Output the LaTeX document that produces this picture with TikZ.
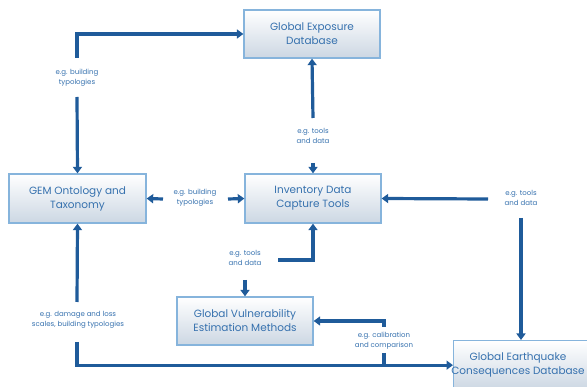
\documentclass[tikz,border=0pt]{standalone}
\usepackage{fontspec}
\setmainfont{Poppins}
\usetikzlibrary{arrows.meta}
\definecolor{arr}{HTML}{1F5B9A}
\definecolor{txt}{HTML}{3671AE}
\definecolor{bord}{HTML}{86B4DC}
\definecolor{shade}{HTML}{CCD7E3}
\tikzset{
  box/.style={draw=bord, line width=1.3pt, top color=white, bottom color=shade,
    minimum width=136pt, minimum height=48pt, inner sep=0pt, align=center,
    text=txt, font=\fontsize{10.5}{14}\selectfont},
  lab/.style={text=txt, align=center, inner sep=0pt, font=\fontsize{7}{10}\selectfont},
  conn/.style={draw=arr, line width=3.2pt, -{Triangle[length=6.5pt,width=9pt]}},
  plain/.style={draw=arr, line width=3.2pt},
}
\begin{document}
\begin{tikzpicture}[x=1pt,y=-1pt]
\useasboundingbox (0,0) rectangle (587,387);
\clip (0,0) rectangle (587,387);
% boxes
\node[box] (exp) at (312,34) {Global Exposure\\Database};
\node[box, minimum width=137pt, minimum height=49pt] (gem) at (77.5,198.5) {GEM Ontology and\\Taxonomy};
\node[box, minimum height=49pt] (inv) at (313,198.5) {Inventory Data\\Capture Tools};
\node[box] (vul) at (245,321) {Global Vulnerability\\Estimation Methods};
\node[box, anchor=north west, minimum width=150pt, minimum height=49pt] (con) at (453,340) {};
\node[lab, text=txt, font=\fontsize{10.5}{14}\selectfont] (contxt) at (518,365) {Global Earthquake\\Consequences Database};
% labels
\node[lab] (lab1) at (77,78) {e.g. building\\typologies};
\node[lab] (lab2) at (195,198) {e.g. building\\typologies};
\node[lab] (lab3) at (313,136) {e.g. tools\\and data};
\node[lab] (lab4) at (521,198) {e.g. tools\\and data};
\node[lab] (lab5) at (245,258) {e.g. tools\\and data};
\node[lab] (lab6) at (78,320) {e.g. damage and loss\\scales, building typologies};
\node[lab] (lab7) at (384,341) {e.g. calibration\\and comparison};
% free ends
\coordinate (c1a) at (77,58);
\coordinate (c1b) at (77,97);
\coordinate (c2a) at (163,199);
\coordinate (c2b) at (228,199);
\coordinate (c3a) at (313,118);
\coordinate (c3b) at (313,163);
\coordinate (c4a) at (488,199);
\coordinate (c4b) at (521,218);
\coordinate (c5a) at (278,260);
\coordinate (c5b) at (245,280);
\coordinate (c6a) at (77,302);
\coordinate (c6b) at (77,342);
\coordinate (c7a) at (384,353);
\coordinate (c7b) at (384,327);
% connectors
\draw[conn] (c1a) |- (exp.west);
\draw[conn] (c1b) -- (gem.north);
\draw[conn] (c2a) -- (gem.east);
\draw[conn] (c2b) -- (inv.west);
\draw[conn] (c3a) -- (exp.south);
\draw[conn] (c3b) -- (inv.north);
\draw[conn] (c4a) -- (inv.east);
\draw[conn] (c4b) -- (c4b |- con.north);
\draw[conn] (c5a) -| (inv.south);
\draw[conn] (c5b) -- (vul.north);
\draw[conn] (c6a) -- (gem.south);
\draw[conn] (c6b) |- (con.west);
\draw[plain] (c7a) -- (c7a |- con.west);
\draw[conn] (c7b) |- (vul.east);
\end{tikzpicture}
\end{document}
